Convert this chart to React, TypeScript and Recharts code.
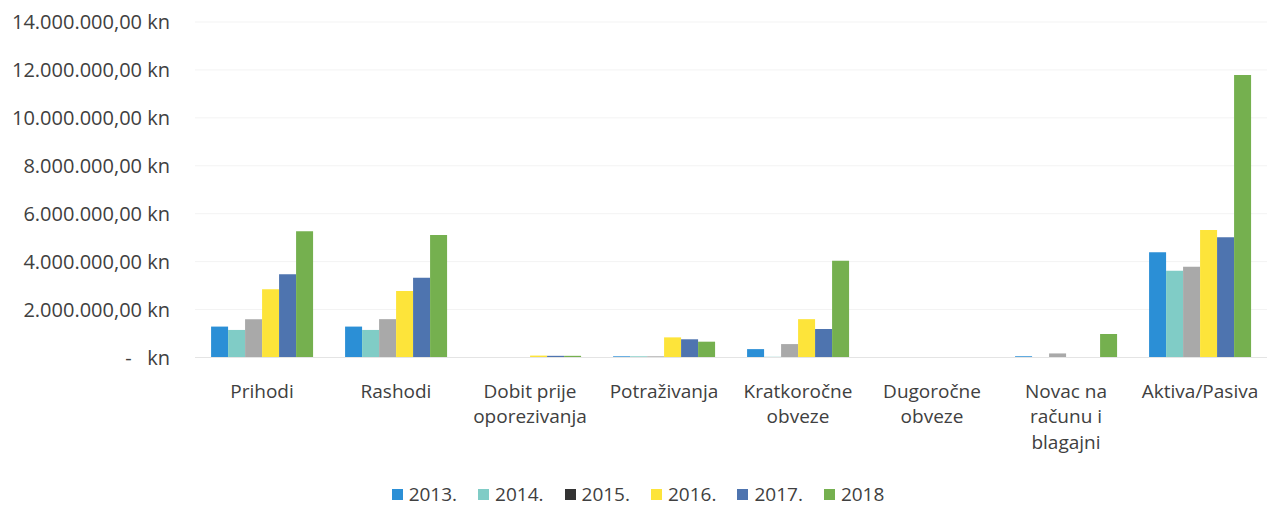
import React from "react";
import { BarChart, Bar, XAxis, YAxis, CartesianGrid, Legend } from "recharts";

const categories = [
  "Prihodi",
  "Rashodi",
  "Dobit prije\noporezivanja",
  "Potraživanja",
  "Kratkoročne\nobveze",
  "Dugoročne\nobveze",
  "Novac na\nračunu i\nblagajni",
  "Aktiva/Pasiva",
];

const years = ["2013.", "2014.", "2015.", "2016.", "2017.", "2018"];

const s2013 = [1290000, 1290000, 0, 50000, 350000, 0, 50000, 4390000];
const s2014 = [1150000, 1150000, 0, 50000, 30000, 0, 0, 3620000];
const s2015 = [1600000, 1600000, 0, 50000, 560000, 0, 170000, 3790000];
const s2016 = [2850000, 2780000, 80000, 840000, 1600000, 0, 0, 5320000];
const s2017 = [3470000, 3330000, 70000, 760000, 1190000, 0, 0, 5020000];
const s2018 = [5270000, 5110000, 70000, 660000, 4040000, 0, 980000, 11790000];

const yTicks = [0, 2000000, 4000000, 6000000, 8000000, 10000000, 12000000, 14000000];

const barColors = ["#2B8FD6", "#80CCC6", "#A9A9A9", "#FDE43A", "#4E74AF", "#75B04F"];
const legendColors = ["#2B8FD6", "#80CCC6", "#333333", "#FDE43A", "#4E74AF", "#75B04F"];

const seriesList = [s2013, s2014, s2015, s2016, s2017, s2018];

const data = categories.map((c, i) => {
  const row: Record<string, any> = { name: c };
  years.forEach((y, k) => {
    row["y" + k] = seriesList[k][i];
  });
  return row;
});

const FONT = "'Open Sans', sans-serif";
const TEXT = "#404040";

function fmt(v: number) {
  if (v === 0) return "-   kn";
  const s = Math.round(v).toString().replace(/\B(?=(\d{3})+(?!\d))/g, ".");
  return s + ",00 kn";
}

const YTick = (props: any) => {
  const { x, y, payload } = props;
  return (
    <text
      x={x}
      y={y}
      dy="0.35em"
      textAnchor="end"
      fill={TEXT}
      fontSize={20}
      fontFamily={FONT}
      style={{ whiteSpace: "pre" }}
    >
      {fmt(payload.value)}
    </text>
  );
};

const XTick = (props: any) => {
  const { x, y, payload } = props;
  const lines = String(payload.value).split("\n");
  return (
    <g>
      {lines.map((l, i) => (
        <text
          key={i}
          x={x}
          y={y + 38 + i * 25.5}
          textAnchor="middle"
          fill={TEXT}
          fontSize={19}
          fontFamily={FONT}
        >
          {l}
        </text>
      ))}
    </g>
  );
};

const LegendContent = () => (
  <div
    style={{
      display: "flex",
      justifyContent: "center",
      alignItems: "center",
      height: 24,
      fontFamily: FONT,
      fontSize: 19,
      color: TEXT,
      lineHeight: "24px",
    }}
  >
    {years.map((y, k) => (
      <div key={y} style={{ display: "flex", alignItems: "center", marginRight: k < years.length - 1 ? 21 : 0 }}>
        <span
          style={{
            display: "inline-block",
            width: 11,
            height: 11,
            background: legendColors[k],
            marginRight: 6,
          }}
        />
        <span>{y}</span>
      </div>
    ))}
  </div>
);

export default function App() {
  return (
    <div style={{ position: "absolute", left: 0, top: 0, width: 1276, height: 506, background: "#fff" }}>
      <BarChart
        width={1276}
        height={506}
        data={data}
        margin={{ top: 22, right: 9, bottom: 0, left: 0 }}
        barCategoryGap="12%"
        barGap={0}
      >
        <CartesianGrid vertical={false} stroke="#f3f3f3" />
        <XAxis
          dataKey="name"
          interval={0}
          tickLine={false}
          tickSize={0}
          axisLine={{ stroke: "#e4e4e4" }}
          height={124.5}
          tick={<XTick />}
        />
        <YAxis
          width={195}
          domain={[0, 14000000]}
          ticks={yTicks}
          axisLine={false}
          tickLine={false}
          tickSize={0}
          tickMargin={25}
          tick={<YTick />}
        />
        <Legend verticalAlign="bottom" height={24} content={<LegendContent />} wrapperStyle={{ left: 0, width: 1276 }} />
        {years.map((y, k) => (
          <Bar key={y} dataKey={"y" + k} name={y} fill={barColors[k]} isAnimationActive={false} />
        ))}
      </BarChart>
    </div>
  );
}
